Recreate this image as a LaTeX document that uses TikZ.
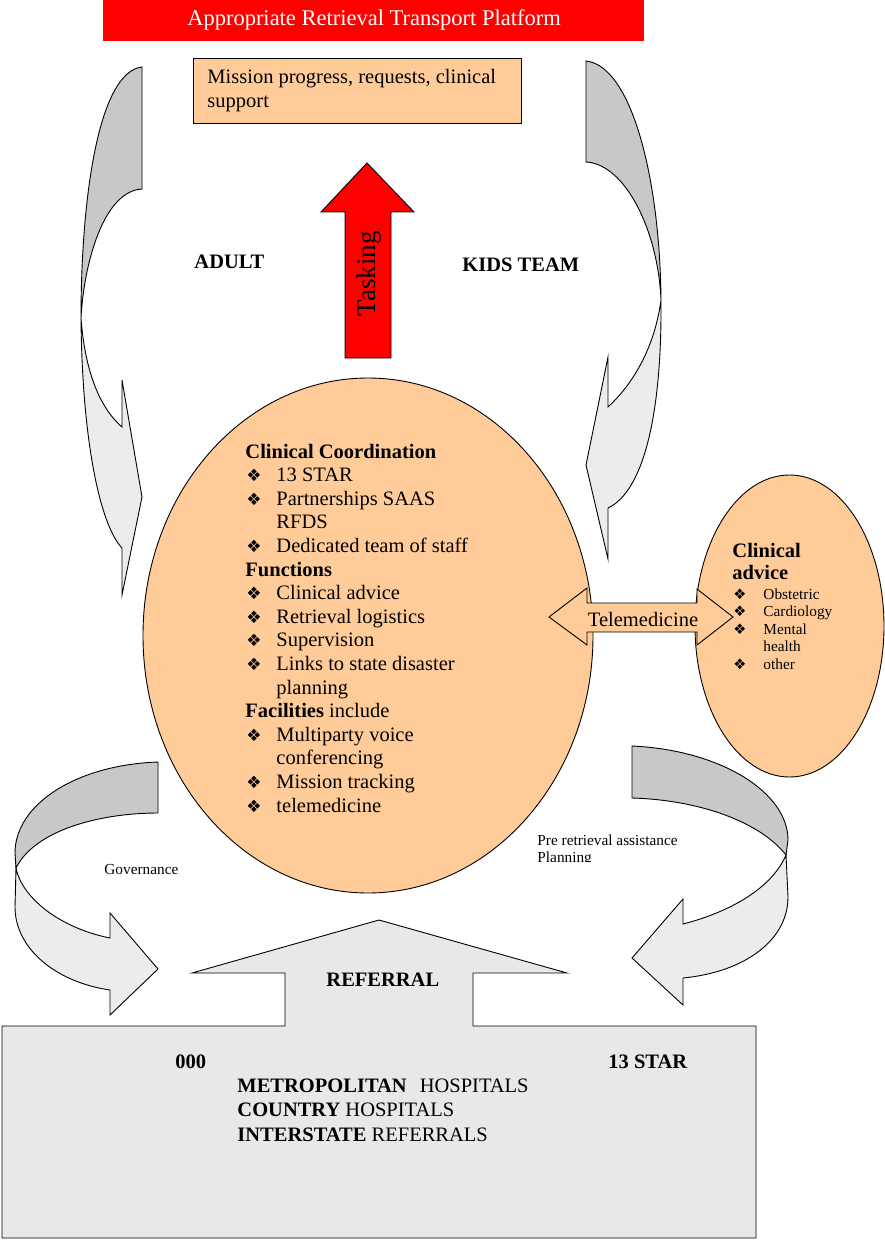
\documentclass[tikz,border=0pt]{standalone}
\usepackage{fontspec}
\setmainfont{Liberation Serif}
\newfontfamily\symfont{DejaVu Sans}
\usetikzlibrary{shapes.geometric}

\definecolor{peach}{RGB}{255,204,153}
\definecolor{bandback}{RGB}{200,200,200}
\definecolor{bandfront}{RGB}{236,236,236}
\definecolor{boxgray}{RGB}{232,232,232}

\newcommand{\bul}{\makebox[31pt][l]{\hspace*{1pt}{\symfont\fontsize{17}{17}\selectfont\char"2756}}}
\newcommand{\cnt}{\hspace*{31pt}}
\newcommand{\sbul}{\makebox[30pt][l]{{\symfont\fontsize{14.5}{14.5}\selectfont\char"2756}}}

\begin{document}
\begin{tikzpicture}[x=1pt, y=-1pt, line width=0.9pt,
    every node/.style={inner sep=0pt},
    back/.style={fill=bandback, draw=black},
    front/.style={fill=bandfront, draw=black},
    big/.style={font=\fontsize{20.5}{23.6}\selectfont},
    bigbold/.style={font=\bfseries\fontsize{20.5}{23.6}\selectfont},
    small/.style={font=\fontsize{15.3}{17.6}\selectfont}]
    \useasboundingbox (0,0) rectangle (884,1241);

    % Banner
    \node[fill=red, minimum width=541, minimum height=41, anchor=north west] (banner) at (103,0) {};
    \node[anchor=base, text=white, font=\fontsize{22.5}{26}\selectfont] (bannertxt) at (374,26) {Appropriate Retrieval Transport Platform};

    % Mission box (base = last line)
    \node[draw, fill=peach, minimum width=328, minimum height=65, anchor=north west] (mission) at (193,58) {};
    \node[anchor=base west, align=left, big] (missiontxt) at (207,107.5) {Mission progress, requests, clinical\\support};

    % ADULT band (left)
    \draw[back] (142,67) -- (142,189) .. controls (104,191) and (84,262) .. (81,318) .. controls (81,200) and (98,72) .. (142,67) -- cycle;
    \draw[front] (81,318) .. controls (82,440) and (100,525) .. (122,548) -- (122,595) -- (142,497) -- (122,380) -- (122,427) .. controls (100,408) and (85,372) .. (81,318) -- cycle;

    % KIDS TEAM band (right)
    \draw[back] (586,61) -- (586,162) .. controls (625,164) and (658,230) .. (661,300) .. controls (660,180) and (632,66) .. (586,61) -- cycle;
    \draw[front] (661,300) .. controls (662,420) and (642,492) .. (608,508) -- (608,559) -- (586,465) -- (608,357) -- (608,407) .. controls (635,382) and (655,345) .. (661,300) -- cycle;

    \node[anchor=base west, bigbold] (adult) at (194,269) {ADULT};
    \node[anchor=base west, bigbold] (kids) at (462,272) {KIDS TEAM};

    % Tasking arrow
    \draw[fill=red] (345,358) -- (345,212) -- (321,212) -- (367,163) -- (414,212) -- (391,212) -- (391,358) -- cycle;
    \node[rotate=90, font=\fontsize{27}{30}\selectfont] (tasking) at (369,274) {Tasking};

    % Referral box and arrow
    \draw[fill=boxgray] (2,1238) -- (2,1026) -- (285,1026) -- (285,973) -- (192,973) -- (379,920) -- (567,973) -- (473,973) -- (473,1026) -- (756,1026) -- (756,1238) -- cycle;
    \node[anchor=base west, bigbold] (referral) at (326,986) {REFERRAL};
    \node[anchor=base west, bigbold] (zeros) at (175,1068) {000};
    \node[anchor=base west, bigbold] (star) at (608,1068) {13 STAR};
    \node[anchor=base west, align=left, font=\fontsize{20.5}{24.4}\selectfont] (hosp) at (237,1141)
        {\textbf{METROPOLITAN}\hspace{13pt}HOSPITALS\\\textbf{COUNTRY} HOSPITALS\\\textbf{INTERSTATE} REFERRALS};

    % Governance band
    \draw[back] (158,762) .. controls (75,765) and (15,805) .. (15,853) -- (16,868) .. controls (35,830) and (100,813) .. (158,813) -- cycle;
    \draw[front] (16,868) -- (15,907) .. controls (15,948) and (55,982) .. (110,990) -- (110,1015) -- (158,969) -- (110,913) -- (110,938) .. controls (60,928) and (22,898) .. (16,868) -- cycle;
    \node[anchor=base west, small] (gov) at (104,874) {Governance};

    % Pre retrieval band
    \draw[back] (632,746) .. controls (720,750) and (788,792) .. (788,840) -- (786,855) .. controls (760,822) and (700,800) .. (632,798) -- cycle;
    \draw[front] (786,855) -- (788,897) .. controls (788,940) and (745,972) .. (683,978) -- (683,1005) -- (632,958) -- (683,899) -- (683,924) .. controls (730,912) and (772,888) .. (786,855) -- cycle;
    \begin{scope}
        \clip (500,820) rectangle (720,861);
        \node[anchor=base west, align=left, small] (pre) at (537,862.6) {Pre retrieval assistance\\Planning};
    \end{scope}

    % Clinical coordination
    \node[ellipse, draw, fill=peach, minimum width=450, minimum height=515] (coord) at (368,635.5) {};
    \node[anchor=base west, align=left, big] (coordtxt) at (245,812) {%
        \textbf{Clinical Coordination}\\
        \bul 13 STAR\\
        \bul Partnerships SAAS\\
        \cnt RFDS\\
        \bul Dedicated team of staff\\
        \textbf{Functions}\\
        \bul Clinical advice\\
        \bul Retrieval logistics\\
        \bul Supervision\\
        \bul Links to state disaster\\
        \cnt planning\\
        \textbf{Facilities} include\\
        \bul Multiparty voice\\
        \cnt conferencing\\
        \bul Mission tracking\\
        \bul telemedicine};

    % Clinical advice
    \node[ellipse, draw, fill=peach, minimum width=189, minimum height=302] (advice) at (789.5,626) {};
    \node[anchor=base west, align=left, font=\bfseries\fontsize{20.5}{22}\selectfont] (advicetxt) at (732,579) {Clinical\\advice};
    \node[anchor=base west, align=left, small] (advicelist) at (733,669.4) {%
        \sbul Obstetric\\
        \sbul Cardiology\\
        \sbul Mental\\
        \hspace*{30pt}health\\
        \sbul other};

    % Telemedicine
    \draw[fill=peach] (549,617) -- (587,588) -- (587,603) -- (697,603) -- (697,589) -- (733,617) -- (697,645) -- (697,632) -- (587,632) -- (587,645) -- cycle;
    \node[anchor=base, big] (tele) at (643,626) {Telemedicine};
\end{tikzpicture}
\end{document}
